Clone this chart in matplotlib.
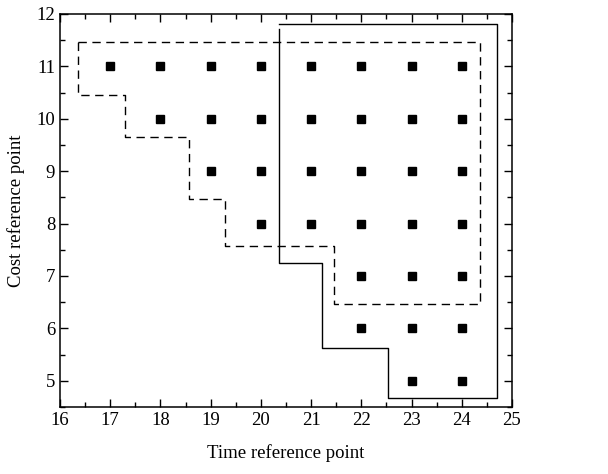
import matplotlib
matplotlib.use("Agg")
import matplotlib.pyplot as plt
from matplotlib.ticker import MultipleLocator

plt.rcParams['font.family'] = ['Liberation Serif', 'DejaVu Serif']

# Data points (time reference, cost reference)
rows_cost = [11, 10, 9, 8, 7, 6, 5]
rows_time_start = [17, 18, 19, 20, 22, 22, 23]
time_end = 24

# Dashed region boundary
dash_x = [16.36, 24.37, 24.37, 21.46, 21.46, 19.28, 19.28, 18.56, 18.56, 17.30, 17.30, 16.36, 16.36]
dash_y = [11.47, 11.47, 6.46, 6.46, 7.58, 7.58, 8.47, 8.47, 9.66, 9.66, 10.46, 10.46, 11.47]

# Solid region boundary
solid_x = [20.37, 20.37, 21.22, 21.22, 22.53, 22.53, 24.70, 24.70, 20.37]
solid_y = [11.72, 7.25, 7.25, 5.63, 5.63, 4.67, 4.67, 11.80, 11.80]

fig = plt.figure(figsize=(6.08, 4.74), dpi=100)
ax = fig.add_axes([0.0987, 0.1414, 0.7433, 0.8291])

xs, ys = [], []
for c, s in zip(rows_cost, rows_time_start):
    for t in range(s, time_end + 1):
        xs.append(t)
        ys.append(c)
ax.plot(xs, ys, 's', color='black', markersize=5.5, linestyle='none')

ax.plot(dash_x, dash_y, color='black', lw=1.0, linestyle=(0, (6, 4)))
ax.plot(solid_x, solid_y, color='black', lw=1.0)

ax.set_xlim(16, 25)
ax.set_ylim(4.5, 12)
ax.xaxis.set_major_locator(MultipleLocator(1))
ax.xaxis.set_minor_locator(MultipleLocator(0.5))
ax.yaxis.set_major_locator(MultipleLocator(1))
ax.yaxis.set_minor_locator(MultipleLocator(0.5))
ax.set_yticks([5, 6, 7, 8, 9, 10, 11, 12])
ax.tick_params(which='both', direction='in', top=True, right=True, labelsize=13.5, width=1.0)
ax.tick_params(which='major', length=6)
ax.tick_params(which='minor', length=3.5)
for sp in ax.spines.values():
    sp.set_linewidth(1.1)

ax.set_xlabel('Time reference point', fontsize=13.5, labelpad=11)
ax.set_ylabel('Cost reference point', fontsize=13.5, labelpad=8)

fig.savefig('out.png', dpi=100)
